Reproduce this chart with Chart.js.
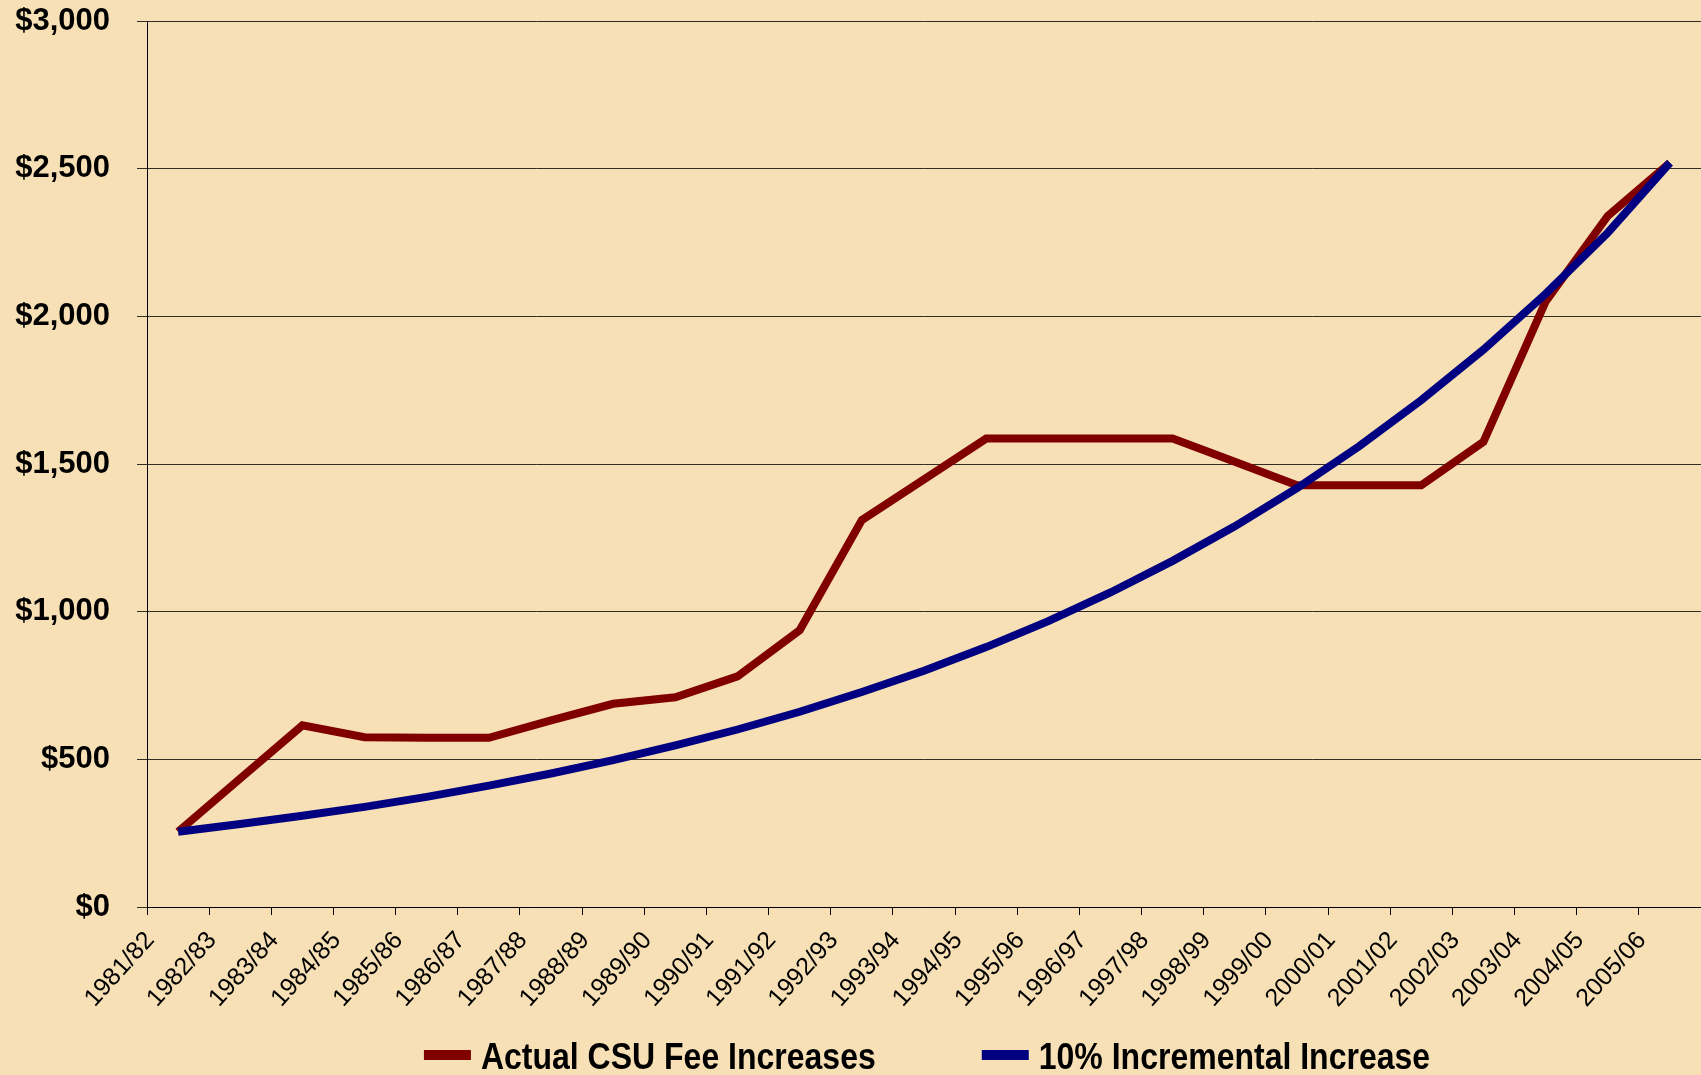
<!DOCTYPE html>
<html>
<head>
<meta charset="utf-8">
<title>Actual CSU Fee Increases vs 10% Incremental Increase</title>
<script src="https://cdn.jsdelivr.net/npm/chart.js@4.4.1/dist/chart.umd.min.js"></script>
<style>
  html, body { margin: 0; padding: 0; background: #F7E0B5; overflow: hidden; }
  #wrap { position: relative; width: 1701px; height: 1075px; }
</style>
</head>
<body>
<div id="wrap"><canvas id="feeChart"></canvas></div>
<script>
// Academic years (x axis)
const years = [
  '1981/82', '1982/83', '1983/84', '1984/85', '1985/86', '1986/87', '1987/88',
  '1988/89', '1989/90', '1990/91', '1991/92', '1992/93', '1993/94', '1994/95',
  '1995/96', '1996/97', '1997/98', '1998/99', '1999/00', '2000/01', '2001/02',
  '2002/03', '2003/04', '2004/05', '2005/06'
];

// Actual fee per year
const actualFees = [
  255, 435, 615, 575, 573, 573, 632, 688, 710, 781, 937, 1310, 1448, 1586,
  1586, 1586, 1586, 1508, 1428, 1428, 1428, 1575, 2050, 2340, 2520
];

// 10% incremental increase line
const tenPercentFees = [
  255, 281, 309, 339, 373, 411, 452, 497, 547, 601, 661, 728, 800, 880,
  968, 1065, 1172, 1289, 1418, 1560, 1716, 1887, 2076, 2283, 2520
];

// Y axis range
const yMin = 0;
const yMax = 3000;
const yStep = 500;

const seriesLabels = ['Actual CSU Fee Increases', '10% Incremental Increase'];

const colors = {
  actual: '#800000',
  tenPercent: '#000080',
  axis: '#000000',
  grid: 'rgba(0, 0, 0, 0.8)',
  text: '#000000'
};

const fontFamily = '"Liberation Sans", Arial, Helvetica, sans-serif';

// Legend drawn below the axis labels, centred under the plot area
const bottomLegend = {
  id: 'bottomLegend',
  afterDraw(chart, args, opts) {
    const { ctx, chartArea } = chart;
    ctx.save();
    ctx.font = opts.font;
    ctx.textBaseline = 'middle';
    ctx.textAlign = 'left';
    const items = chart.data.datasets.map(ds => ({
      label: ds.label,
      color: ds.borderColor,
      width: ctx.measureText(ds.label).width
    }));
    const total = items.reduce((s, it) => s + opts.boxWidth + opts.boxGap + it.width, 0) +
      opts.itemGap * (items.length - 1);
    let x = (chartArea.left + chartArea.right) / 2 - total / 2 + opts.shiftX;
    const y = chart.height - opts.bottomOffset;
    items.forEach(it => {
      ctx.fillStyle = it.color;
      ctx.fillRect(x, y - opts.boxHeight / 2 - 4, opts.boxWidth, opts.boxHeight);
      x += opts.boxWidth + opts.boxGap;
      // the original legend font is a little taller than plain bold Arial
      ctx.save();
      ctx.translate(x, y);
      ctx.scale(1, opts.stretchY);
      ctx.fillStyle = colors.text;
      ctx.fillText(it.label, 0, 0);
      ctx.restore();
      x += it.width + opts.itemGap;
    });
    ctx.restore();
  }
};

const ctx = document.getElementById('feeChart').getContext('2d');

new Chart(ctx, {
  type: 'line',
  data: {
    labels: years,
    datasets: [
      {
        label: seriesLabels[0],
        data: actualFees,
        borderColor: colors.actual,
        backgroundColor: colors.actual,
        borderWidth: 8,
        pointRadius: 0,
        tension: 0,
        borderJoinStyle: 'miter',
        order: 1
      },
      {
        label: seriesLabels[1],
        data: tenPercentFees,
        borderColor: colors.tenPercent,
        backgroundColor: colors.tenPercent,
        borderWidth: 8,
        pointRadius: 0,
        tension: 0,
        borderJoinStyle: 'miter',
        order: 0
      }
    ]
  },
  options: {
    responsive: true,
    maintainAspectRatio: false,
    animation: false,
    layout: {
      padding: { top: 21, right: 0, bottom: 0, left: 0 }
    },
    plugins: {
      legend: { display: false },
      tooltip: { enabled: false },
      bottomLegend: {
        font: 'bold 32px ' + fontFamily,
        boxWidth: 47,
        boxHeight: 10,
        boxGap: 10,
        itemGap: 106,
        shiftX: 3,
        bottomOffset: 16,
        stretchY: 1.15
      }
    },
    scales: {
      x: {
        offset: true,
        grid: {
          offset: true,
          drawOnChartArea: false,
          drawTicks: true,
          tickLength: 8,
          color: colors.axis,
          lineWidth: 1
        },
        border: { display: true, color: colors.axis, width: 1 },
        ticks: {
          color: colors.text,
          autoSkip: false,
          minRotation: 48,
          maxRotation: 48,
          padding: 11,
          labelOffset: -28,
          font: { family: fontFamily, size: 25 }
        },
        afterFit(scale) {
          scale.height = 168;
          // plot area runs right up to the canvas edge, as in the original
          scale.paddingLeft = 0;
          scale.paddingRight = 0;
        }
      },
      y: {
        min: yMin,
        max: yMax,
        grid: {
          color: colors.grid,
          lineWidth: 1,
          drawTicks: true,
          tickLength: 10
        },
        border: { display: true, color: colors.axis, width: 1 },
        ticks: {
          stepSize: yStep,
          color: colors.text,
          padding: 27,
          font: { family: fontFamily, size: 31, weight: 'bold' },
          callback: (value) => '$' + value.toLocaleString('en-US')
        },
        afterFit(scale) {
          scale.width = 147;
          // only the layout padding decides where the plot area starts
          scale.paddingTop = 0;
        }
      }
    }
  },
  plugins: [bottomLegend]
});
</script>
</body>
</html>
